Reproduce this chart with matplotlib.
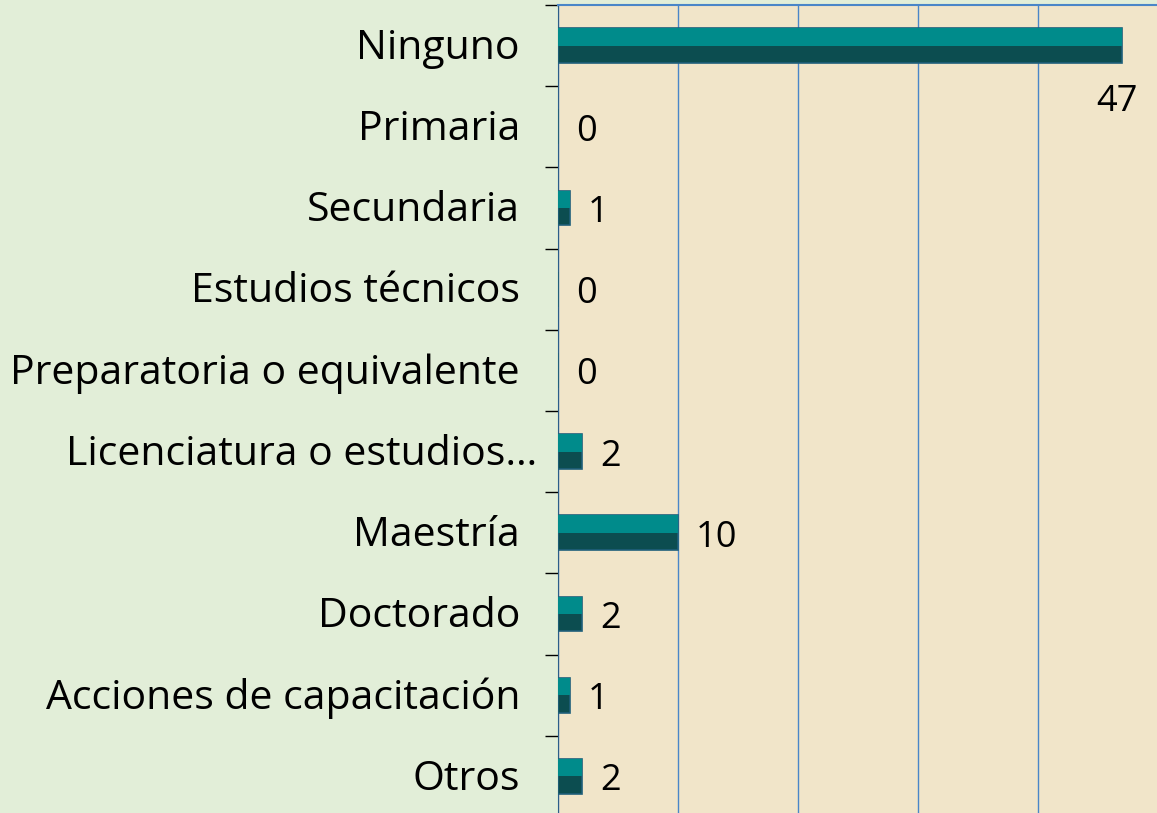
'''Horizontal bar chart: nivel de estudios (bar labels with counts).'''

import numpy as np
import matplotlib.pyplot as plt

# Data
categorias = ['Ninguno', 'Primaria', 'Secundaria', 'Estudios técnicos',
              'Preparatoria o equivalente', 'Licenciatura o estudios…',
              'Maestría', 'Doctorado', 'Acciones de capacitación', 'Otros']
valores = [47, 0, 1, 0, 0, 2, 10, 2, 1, 2]
xticks = [0, 10, 20, 30, 40, 50]

# Styles
fondo_izq = '#e2eed8'
fondo_plot = '#f1e5c9'
teal_claro = '#008b8b'
teal_oscuro = '#0c4d50'
azul_grid = '#4a86c8'

plt.rcParams['font.family'] = ['Open Sans', 'DejaVu Sans']

fig = plt.figure(figsize=(11.57, 8.13), dpi=100)
fig.patch.set_facecolor(fondo_izq)
ax = fig.add_axes([558 / 1157, -4 / 813, 600 / 1157, 812 / 813])
ax.set_facecolor(fondo_plot)

y = np.arange(len(categorias))
h = 0.43

# 3D-ish bars: light upper half, dark lower half
ax.barh(y, valores, height=h, color=teal_oscuro, edgecolor='#1f5f7a',
        linewidth=1.2, zorder=3)
ax.barh(y - h / 4, valores, height=h / 2, color=teal_claro, linewidth=0,
        zorder=4)

ax.set_xlim(0, 50)
ax.set_ylim(len(categorias) - 0.5, -0.5)
ax.set_xticks(xticks)
ax.xaxis.grid(True, color=azul_grid, linewidth=1)
ax.set_axisbelow(True)
ax.tick_params(axis='x', length=0, labelbottom=False, labeltop=False)

# boundaries between categories as ticks
ax.set_yticks(np.arange(len(categorias) + 1) - 0.5)
ax.set_yticklabels([])
ax.tick_params(axis='y', length=9.5, width=1, color='black', direction='out')

for s in ['bottom', 'right']:
    ax.spines[s].set_visible(False)
ax.spines['left'].set_color('#2b5d8a')
ax.spines['top'].set_color(azul_grid)
ax.spines['top'].set_linewidth(1.5)

# category labels
for i, cat in enumerate(categorias):
    off = -21 if cat.endswith('…') else -38
    ax.annotate(cat, xy=(0, i), xycoords=('axes fraction', 'data'),
                xytext=(off, -3), textcoords='offset pixels',
                ha='right', va='center', fontsize=29.5, color='black',
                annotation_clip=False)

# value labels
for i, v in enumerate(valores):
    if v >= 45:
        ax.annotate(str(v), xy=(v, i), xytext=(-5, -56),
                    textcoords='offset pixels', ha='center', va='center',
                    fontsize=26)
    else:
        ax.annotate(str(v), xy=(v, i), xytext=(18, -5),
                    textcoords='offset pixels', ha='left', va='center',
                    fontsize=26)

fig.savefig('out.png', dpi=100, facecolor=fig.get_facecolor())
